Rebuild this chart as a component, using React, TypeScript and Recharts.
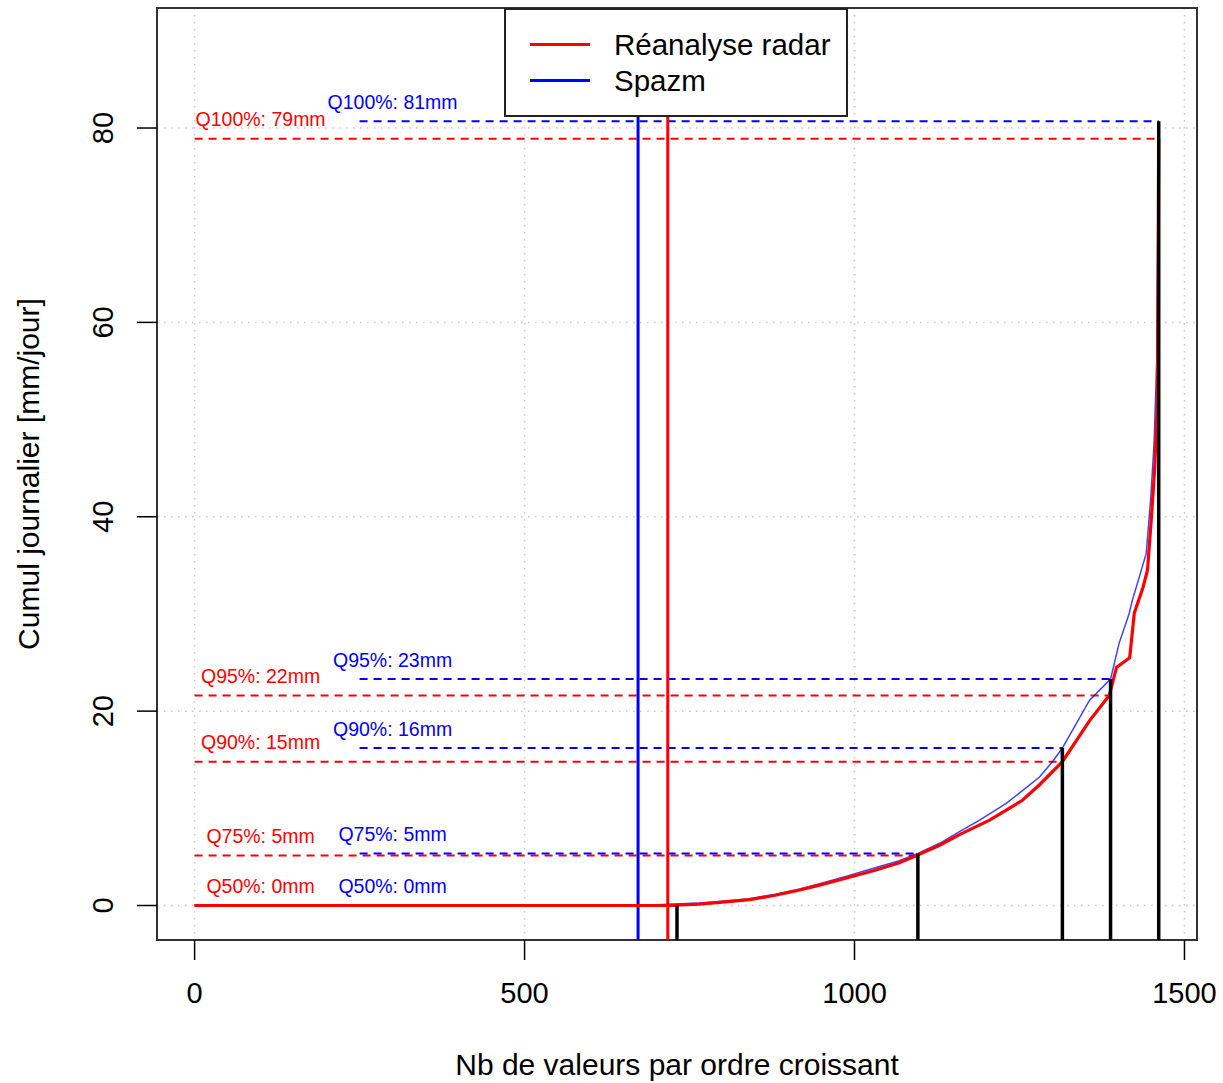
import React from 'react'
import {
  ComposedChart,
  Line,
  XAxis,
  YAxis,
  CartesianGrid,
  ReferenceLine,
  ReferenceDot,
  ReferenceArea,
  Legend,
} from 'recharts'

// sorted daily totals (rank -> mm)
const radarRank = [0, 717, 765, 800, 841, 880, 917, 950, 992, 1030, 1068, 1094, 1129, 1159, 1204, 1254, 1280, 1315, 1356, 1386, 1397, 1417, 1424, 1437, 1444, 1450, 1455, 1459, 1461]
const radarMm = [0, 0, 0.15, 0.35, 0.6, 1.05, 1.6, 2.15, 2.9, 3.6, 4.4, 5.15, 6.2, 7.3, 8.75, 10.8, 12.4, 14.8, 19.0, 21.6, 24.5, 25.5, 30.1, 32.7, 34.5, 40, 45.1, 52, 78.9]
const spazmRank = [0, 672, 765, 800, 841, 880, 917, 950, 992, 1030, 1068, 1096, 1129, 1159, 1189, 1230, 1280, 1300, 1315, 1330, 1356, 1388, 1401, 1416, 1421, 1442, 1449, 1454, 1458, 1461]
const spazmMm = [0, 0, 0.25, 0.45, 0.7, 1.15, 1.7, 2.3, 3.1, 3.85, 4.6, 5.35, 6.4, 7.6, 8.75, 10.5, 13.2, 14.8, 16.2, 18, 21.1, 23.3, 27, 30, 31.4, 36.2, 42, 47.6, 56, 80.7]

// first non-zero rank for each product
const radarFirstRain = 717
const spazmFirstRain = 672

// quantiles
const quantileNames = ['Q50%', 'Q75%', 'Q90%', 'Q95%', 'Q100%']
const quantileRanks = [731, 1096, 1315, 1388, 1461]
const radarQuantiles = [0, 5.15, 14.8, 21.6, 78.9]
const spazmQuantiles = [0, 5.35, 16.2, 23.3, 80.7]

const xTicks = [0, 500, 1000, 1500]
const yTicks = [0, 20, 40, 60, 80]

const series = [
  { name: 'Réanalyse radar', color: '#ff0000' },
  { name: 'Spazm', color: '#0000ff' },
]

const X_MIN = -57
const X_MAX = 1519
const Y_MIN = -3.55
const Y_MAX = 92.35
const RADAR_LABEL_X = 100
const SPAZM_LABEL_X = 300
const SPAZM_DASH_START = 250

const radarData = radarRank.map((x, i) => ({ x, y: radarMm[i] }))
const spazmData = spazmRank.map((x, i) => ({ x, y: spazmMm[i] }))

const FONT = '"Liberation Sans", Arial, Helvetica, sans-serif'

function YTick({ x, y, payload }: any) {
  const bx = x - 20
  return (
    <text x={bx} y={y} transform={`rotate(-90 ${bx} ${y})`} textAnchor="middle" fontSize={29} fill="#000">
      {payload.value}
    </text>
  )
}

function LegendBox() {
  return (
    <div
      style={{
        width: 344,
        height: 109,
        boxSizing: 'border-box',
        border: '2px solid #222',
        background: '#fff',
        position: 'relative',
        fontFamily: FONT,
        fontSize: 29.5,
        color: '#000',
      }}
    >
      {series.map((s, i) => (
        <div key={s.name}>
          <div
            style={{
              position: 'absolute',
              left: 24,
              top: 33 + i * 36,
              width: 60,
              height: 3,
              background: s.color,
            }}
          />
          <div style={{ position: 'absolute', left: 108, top: 17 + i * 36, lineHeight: '36px', whiteSpace: 'nowrap' }}>
            {s.name}
          </div>
        </div>
      ))}
    </div>
  )
}

export default function App() {
  return (
    <div style={{ position: 'absolute', left: 0, top: 0, width: 1223, height: 1083, background: '#fff', fontFamily: FONT }}>
      <ComposedChart width={1223} height={1083} margin={{ top: 8, right: 26, bottom: 0, left: 0 }}>
        <CartesianGrid stroke="#c8c8c8" strokeWidth={1.5} strokeDasharray="1.5 5.5" />
        <XAxis
          type="number"
          dataKey="x"
          domain={[X_MIN, X_MAX]}
          ticks={xTicks}
          allowDataOverflow
          height={143}
          axisLine={false}
          tickSize={20}
          tickMargin={22}
          tickLine={{ stroke: '#000', strokeWidth: 1.5 }}
          tick={{ fontSize: 29, fill: '#000' }}
          label={{
            content: () => (
              <text x={677} y={1075} textAnchor="middle" fontSize={30} fill="#000">
                Nb de valeurs par ordre croissant
              </text>
            ),
          }}
        />
        <YAxis
          type="number"
          dataKey="y"
          domain={[Y_MIN, Y_MAX]}
          ticks={yTicks}
          allowDataOverflow
          width={157}
          axisLine={false}
          tickSize={20}
          tickMargin={4}
          tickLine={{ stroke: '#000', strokeWidth: 1.5 }}
          tick={<YTick />}
          label={{
            content: () => (
              <text x={39} y={474} transform="rotate(-90 39 474)" textAnchor="middle" fontSize={30} fill="#000">
                Cumul journalier [mm/jour]
              </text>
            ),
          }}
        />
        <Legend
          layout="vertical"
          verticalAlign="middle"
          align="center"
          wrapperStyle={{ left: 504, top: 8, width: 344, height: 109 }}
          content={() => <LegendBox />}
        />

        {/* quantile levels, dashed */}
        {quantileRanks.map((r, i) => (
          <ReferenceLine
            key={'rq' + i}
            segment={[{ x: 0, y: radarQuantiles[i] }, { x: r, y: radarQuantiles[i] }]}
            stroke="#ff0000"
            strokeWidth={2}
            strokeDasharray="8 6"
            ifOverflow="visible"
          />
        ))}
        {quantileRanks.map((r, i) => (
          <ReferenceLine
            key={'sq' + i}
            segment={[{ x: SPAZM_DASH_START, y: spazmQuantiles[i] }, { x: r, y: spazmQuantiles[i] }]}
            stroke="#0000ff"
            strokeWidth={2}
            strokeDasharray="8 6"
            ifOverflow="visible"
          />
        ))}

        <ReferenceLine x={spazmFirstRain} stroke="#0000ff" strokeWidth={3} ifOverflow="visible" />
        <ReferenceLine x={radarFirstRain} stroke="#ff0000" strokeWidth={3} ifOverflow="visible" />

        <Line
          data={spazmData}
          dataKey="y"
          name={series[1].name}
          type="linear"
          stroke="#0000ff"
          strokeOpacity={0.75}
          strokeWidth={1.5}
          dot={false}
          isAnimationActive={false}
        />
        <Line
          data={radarData}
          dataKey="y"
          name={series[0].name}
          type="linear"
          stroke="#ff0000"
          strokeWidth={3.2}
          dot={false}
          isAnimationActive={false}
        />

        {/* quantile positions */}
        {quantileRanks.map((r, i) => (
          <ReferenceLine
            key={'bl' + i}
            segment={[{ x: r, y: Y_MIN }, { x: r, y: Math.max(radarQuantiles[i], spazmQuantiles[i]) }]}
            stroke="#000"
            strokeWidth={3.5}
            ifOverflow="visible"
          />
        ))}

        {quantileNames.map((q, i) => (
          <ReferenceDot
            key={'rl' + i}
            x={RADAR_LABEL_X}
            y={radarQuantiles[i] + 2}
            r={0}
            fill="none"
            stroke="none"
            ifOverflow="visible"
            label={{ value: `${q}: ${Math.round(radarQuantiles[i])}mm`, position: 'center', fill: '#ff0000', fontSize: 19.5 }}
          />
        ))}
        {quantileNames.map((q, i) => (
          <ReferenceDot
            key={'sl' + i}
            x={SPAZM_LABEL_X}
            y={spazmQuantiles[i] + 2}
            r={0}
            fill="none"
            stroke="none"
            ifOverflow="visible"
            label={{ value: `${q}: ${Math.round(spazmQuantiles[i])}mm`, position: 'center', fill: '#0000ff', fontSize: 19.5 }}
          />
        ))}

        {/* plot frame */}
        <ReferenceArea
          x1={X_MIN}
          x2={X_MAX}
          y1={Y_MIN}
          y2={Y_MAX}
          fill="none"
          fillOpacity={0}
          stroke="#333"
          strokeWidth={2}
          ifOverflow="visible"
        />
      </ComposedChart>
    </div>
  )
}
